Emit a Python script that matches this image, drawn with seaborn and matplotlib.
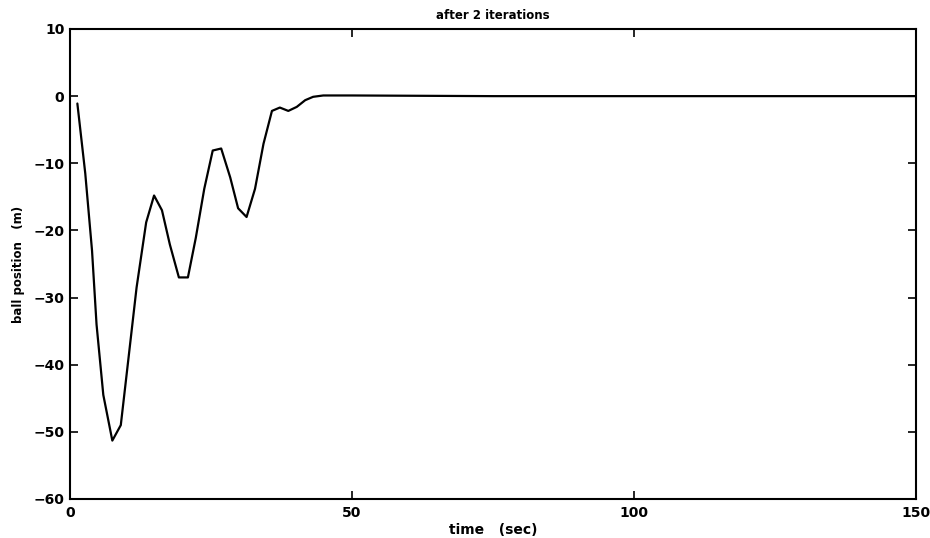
"""Ball position response after 2 iterations (MATLAB-style line plot)."""

import matplotlib

matplotlib.use("Agg")
import matplotlib.pyplot as plt
import pandas as pd
import seaborn as sns

TITLE = "after 2 iterations"
X_LABEL = "time   (sec)"
Y_LABEL = "ball position   (m)"

# samples
time_s = [1.3, 2.7, 3.9, 4.7, 5.9, 7.5, 9.0, 10.3, 11.8, 13.5, 14.9, 16.3,
          17.7, 19.3, 20.9, 22.3, 23.8, 25.3, 26.8, 28.4, 29.8, 31.3, 32.8,
          34.3, 35.8, 37.2, 38.7, 40.2, 41.7, 43.1, 44.9, 50.0, 75.0, 100.0,
          125.0, 150.0]
position_m = [-1.1, -11.5, -23.0, -34.0, -44.5, -51.3, -49.0, -39.5, -28.5,
              -18.8, -14.8, -17.0, -22.1, -27.0, -27.0, -21.1, -13.8, -8.1,
              -7.8, -12.1, -16.7, -18.0, -13.8, -7.1, -2.2, -1.7, -2.2, -1.6,
              -0.6, -0.1, 0.1, 0.1, 0.0, 0.0, 0.0, 0.0]

X_TICKS = [0, 50, 100, 150]
Y_TICKS = [10, 0, -10, -20, -30, -40, -50, -60]


def main() -> None:
    df = pd.DataFrame({"t": time_s, "pos": position_m})

    sns.set_style("ticks")
    plt.rcParams["font.family"] = ["DejaVu Sans"]
    plt.rcParams.update({
        "text.color": "black",
        "axes.labelcolor": "black",
        "xtick.color": "black",
        "ytick.color": "black",
    })

    fig = plt.figure(figsize=(9.3, 5.38), dpi=100)
    ax = fig.add_axes([0.0753, 0.0725, 0.9097, 0.8736])

    sns.lineplot(data=df, x="t", y="pos", ax=ax, color="black", linewidth=1.6,
                 sort=False)

    ax.set_xlim(0, 150)
    ax.set_ylim(-60, 10)
    ax.set_xticks(X_TICKS)
    ax.set_yticks(Y_TICKS)
    ax.set_yticklabels([str(v).replace("-", "\u2212") for v in Y_TICKS])
    ax.tick_params(direction="in", length=6, width=1.2, labelsize=10,
                   top=True, right=True, colors="black")
    ax.tick_params(axis="x", pad=5)
    ax.tick_params(axis="y", pad=4)
    for lbl in ax.get_xticklabels() + ax.get_yticklabels():
        lbl.set_fontweight("bold")
    for spine in ax.spines.values():
        spine.set_visible(True)
        spine.set_linewidth(1.5)
        spine.set_color("black")

    ax.set_title(TITLE, fontsize=8.5, fontweight="bold", pad=7, color="black")
    ax.set_xlabel(X_LABEL, fontsize=10, fontweight="bold", labelpad=2)
    ax.set_ylabel(Y_LABEL, fontsize=8.5, fontweight="bold", labelpad=6)

    fig.savefig("out.png", dpi=100)


if __name__ == "__main__":
    main()
